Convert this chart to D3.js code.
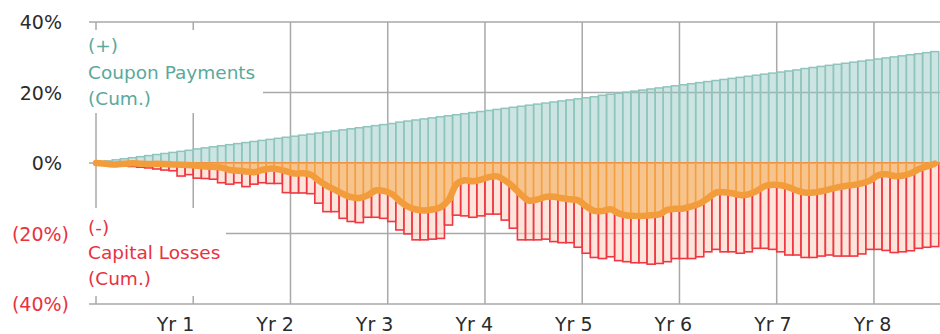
<!DOCTYPE html>
<html>
<head>
<meta charset="utf-8">
<script src="https://cdn.jsdelivr.net/npm/d3@7"></script>
<style>
  html, body { margin: 0; padding: 0; background: #fff; }
  svg { display: block; font-family: "DejaVu Sans", Verdana, sans-serif; }
</style>
</head>
<body>
<svg id="chart" width="940" height="334"></svg>
<script>
// Cumulative coupon payments (%), one value per month
const coupon = [
  0.3, 0.6, 0.9, 1.2, 1.5, 1.8, 2.1, 2.4, 2.7, 3.0, 3.3, 3.6,
  4.0, 4.3, 4.6, 4.9, 5.2, 5.5, 5.8, 6.1, 6.4, 6.7, 7.0, 7.3,
  7.6, 7.9, 8.2, 8.5, 8.8, 9.1, 9.4, 9.7, 10.0, 10.3, 10.6, 10.9,
  11.2, 11.6, 11.9, 12.2, 12.5, 12.8, 13.1, 13.4, 13.7, 14.0, 14.3, 14.6,
  14.9, 15.2, 15.5, 15.8, 16.1, 16.4, 16.7, 17.0, 17.3, 17.6, 17.9, 18.2,
  18.5, 18.8, 19.2, 19.5, 19.8, 20.1, 20.4, 20.7, 21.0, 21.3, 21.6, 21.9,
  22.2, 22.5, 22.8, 23.1, 23.4, 23.7, 24.0, 24.3, 24.6, 24.9, 25.2, 25.5,
  25.8, 26.1, 26.4, 26.8, 27.1, 27.4, 27.7, 28.0, 28.3, 28.6, 28.9, 29.2,
  29.5, 29.8, 30.1, 30.4, 30.7, 31.0, 31.3, 31.6
];

// Cumulative capital losses (%), one value per month
const capitalLoss = [
  -0.3, -0.5, -0.7, -0.8, -1.0, -1.2, -1.4, -1.7, -2.0, -2.2, -3.7, -3.3,
  -4.3, -4.4, -4.6, -5.6, -6.0, -5.6, -6.7, -6.0, -5.6, -5.8, -5.8, -8.4,
  -8.5, -8.5, -8.7, -11.4, -13.8, -13.8, -15.7, -16.6, -16.9, -15.4, -15.4, -15.7,
  -16.6, -19.0, -20.1, -21.8, -21.8, -21.6, -21.4, -17.6, -14.8, -15.0, -15.4, -15.0,
  -14.5, -14.5, -16.2, -18.5, -21.8, -21.8, -21.8, -21.6, -22.3, -22.6, -22.6, -23.9,
  -25.6, -26.8, -27.1, -26.6, -27.7, -28.0, -28.3, -28.3, -28.7, -28.5, -28.0, -27.1,
  -27.1, -27.1, -26.6, -25.2, -24.5, -25.2, -25.2, -25.6, -25.2, -24.2, -24.2, -24.5,
  -25.2, -26.1, -26.1, -26.8, -26.8, -26.4, -26.1, -26.4, -26.4, -26.4, -25.8, -24.5,
  -24.5, -24.8, -25.4, -25.2, -24.9, -24.2, -23.9, -23.7
];

// Net cumulative result (%), one value per month
const netReturn = [
  -0.1, -0.3, -0.4, -0.2, -0.1, -0.2, -0.3, -0.2, -0.3, -0.4, -0.5, -0.6,
  -0.8, -1.0, -1.1, -1.3, -2.0, -2.2, -2.4, -2.6, -2.0, -1.6, -1.8, -2.4,
  -3.0, -2.9, -3.3, -5.0, -6.5, -7.6, -8.8, -9.7, -9.9, -9.2, -7.8, -7.9,
  -8.8, -10.8, -12.4, -13.2, -13.5, -13.2, -12.6, -10.5, -6.0, -4.9, -5.2, -4.7,
  -4.0, -3.8, -5.0, -6.8, -9.1, -10.7, -10.3, -9.6, -9.6, -10.0, -10.3, -10.6,
  -12.3, -13.6, -13.6, -13.1, -14.3, -14.9, -15.0, -15.0, -14.8, -14.6, -13.3, -13.0,
  -12.9, -12.3, -11.5, -10.0, -8.4, -8.3, -8.6, -9.1, -8.9, -8.0, -6.6, -6.2,
  -6.3, -6.9, -7.8, -8.4, -8.4, -8.0, -7.5, -6.9, -6.5, -6.2, -5.8, -5.0,
  -3.5, -3.2, -3.7, -3.6, -3.0, -1.8, -1.0, -0.2
];

const yearLabels = ["Yr 1", "Yr 2", "Yr 3", "Yr 4", "Yr 5", "Yr 6", "Yr 7", "Yr 8"];
const yearMonths = [12, 24, 36, 48, 60, 72, 84, 96];
const yTickValues = [40, 20, 0, -20, -40];
const yTickLabels = ["40%", "20%", "0%", "(20%)", "(40%)"];
const couponLabel = ["(+)", "Coupon Payments", "(Cum.)"];
const lossLabel = ["(-)", "Capital Losses", "(Cum.)"];

const svg = d3.select("#chart");
const plotLeft = 96, plotRight = 940, plotTop = 22, plotBottom = 304;

const x = d3.scaleLinear().domain([0, 104.15]).range([plotLeft, plotRight]);
const y = d3.scaleLinear().domain([-40, 40]).range([plotBottom, plotTop]);
// year captions sit on their own evenly spaced positions
const xLabel = d3.scalePoint().domain(yearLabels).range([175.5, 872.5]);

const gridColor = "#a9a9a9";

// horizontal gridlines (with short tick stubs on the left)
svg.append("g").selectAll("line").data(yTickValues).join("line")
  .attr("x1", plotLeft - 7).attr("x2", plotRight)
  .attr("y1", d => y(d)).attr("y2", d => y(d))
  .attr("stroke", gridColor).attr("stroke-width", 1.5);

// vertical gridlines: axis and year marks
svg.append("g").selectAll("line").data([0].concat(yearMonths)).join("line")
  .attr("x1", d => x(d)).attr("x2", d => x(d))
  .attr("y1", plotTop).attr("y2", plotBottom)
  .attr("stroke", gridColor).attr("stroke-width", 1.5);

// white backing behind the series labels
svg.append("rect").attr("x", 86).attr("y", 30).attr("width", 177).attr("height", 83).attr("fill", "#fff");
svg.append("rect").attr("x", 86).attr("y", 208).attr("width", 140).attr("height", 88).attr("fill", "#fff");

function drawBars(values, cls, fill, fillOpacity, stroke, strokeWidth) {
  svg.append("g").attr("class", cls).selectAll("rect").data(values).join("rect")
    .attr("x", (d, i) => x(i))
    .attr("width", (d, i) => x(i + 1) - x(i))
    .attr("y", d => y(Math.max(0, d)))
    .attr("height", d => Math.abs(y(d) - y(0)))
    .attr("fill", fill).attr("fill-opacity", fillOpacity)
    .attr("stroke", stroke).attr("stroke-width", strokeWidth);
}

drawBars(coupon, "coupon", "#8fc5be", 0.45, "#8fc5be", 1.5);
drawBars(capitalLoss, "loss", "#fbcfbf", 0.55, "#ee3843", 1.6);
drawBars(netReturn, "net", "#f7c48d", 1, "#f3a043", 1.6);

// smoothed net line
const linePts = [{ m: 0, v: 0 }].concat(netReturn.map((v, i) => ({ m: i + 0.5, v })));
svg.append("path")
  .datum(linePts)
  .attr("d", d3.line().x(d => x(d.m)).y(d => y(d.v)).curve(d3.curveCatmullRom.alpha(0.5)))
  .attr("fill", "none")
  .attr("stroke", "#f39c3b")
  .attr("stroke-width", 6.5)
  .attr("stroke-linecap", "round")
  .attr("stroke-linejoin", "round");

// y-axis labels
svg.append("g").selectAll("text").data(yTickValues).join("text")
  .attr("x", d => d < 0 ? 69 : 62)
  .attr("y", d => y(d) + 7)
  .attr("text-anchor", "end")
  .attr("font-size", 19)
  .attr("fill", d => d < 0 ? "#e8323f" : "#2b2b2b")
  .text((d, i) => yTickLabels[i]);

// x-axis year labels
svg.append("g").selectAll("text").data(yearLabels).join("text")
  .attr("x", d => xLabel(d))
  .attr("y", 331)
  .attr("text-anchor", "middle")
  .attr("font-size", 19)
  .attr("fill", "#2b2b2b")
  .text(d => d);

// series labels
svg.append("g").selectAll("text").data(couponLabel).join("text")
  .attr("x", 88).attr("y", (d, i) => 52 + i * 26.5)
  .attr("font-size", 18.5).attr("fill", "#5aa99c")
  .text(d => d);

svg.append("g").selectAll("text").data(lossLabel).join("text")
  .attr("x", 88).attr("y", (d, i) => 233.5 + i * 25.7)
  .attr("font-size", 18.5).attr("fill", "#e8323f")
  .text(d => d);
</script>
</body>
</html>
